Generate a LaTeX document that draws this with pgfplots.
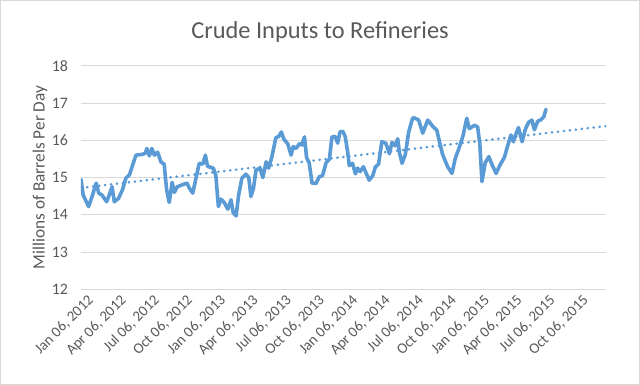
\documentclass[border=0pt]{standalone}
\usepackage{pgfplots}
\pgfplotsset{compat=1.18}
\usepackage{fontspec}
\setmainfont{Carlito}
\definecolor{exblue}{HTML}{5B9BD5}
\definecolor{gridgray}{HTML}{D9D9D9}
\definecolor{textgray}{HTML}{595959}
\begin{document}
\begin{tikzpicture}
\path[use as bounding box] (-81bp,-95.7bp) rectangle (559bp,289.3bp);
\begin{axis}[
  at={(0,0)}, anchor=south west,
  scale only axis, width=525bp, height=223.6bp,
  xmin=0, xmax=1452, ymin=12, ymax=18,
  ytick={12,13,14,15,16,17,18},
  xtick={0,91,182,274,366,456,547,639,731,821,912,1004,1096,1186,1277,1369},
  xticklabels={{Jan 06, 2012},{Apr 06, 2012},{Jul 06, 2012},{Oct 06, 2012},{Jan 06, 2013},{Apr 06, 2013},{Jul 06, 2013},{Oct 06, 2013},{Jan 06, 2014},{Apr 06, 2014},{Jul 06, 2014},{Oct 06, 2014},{Jan 06, 2015},{Apr 06, 2015},{Jul 06, 2015},{Oct 06, 2015}},
  ymajorgrids, grid style={color=gridgray, line width=0.75bp},
  axis line style={draw=none}, tick style={draw=none},
  /pgf/number format/assume math mode=true,
  ticklabel style={font=\fontsize{16}{18}\selectfont, text=textgray},
  yticklabel style={anchor=east, xshift=-9.5bp},
  xticklabel style={font=\fontsize{15}{17}\selectfont, rotate=45, anchor=east, inner sep=0pt, xshift=1bp, yshift=-13.5bp},
  ylabel={Millions of Barrels Per Day},
  ylabel style={at={(axis description cs:-0.078,0.5)}, anchor=center, font=\fontsize{17.3}{20}\selectfont, text=textgray},
]
\addplot[color=exblue, line width=3.6bp, line join=round, line cap=round] table {
day value
0 14.95
6 14.53
21 14.22
32 14.53
42 14.85
49 14.58
58 14.53
71 14.35
78 14.53
86 14.75
92 14.35
104 14.44
115 14.68
124 14.98
134 15.07
143 15.34
152 15.60
169 15.62
178 15.65
182 15.78
189 15.58
196 15.78
203 15.60
212 15.68
221 15.42
230 15.36
237 14.66
244 14.33
252 14.87
258 14.60
266 14.75
279 14.80
293 14.85
300 14.71
309 14.58
318 14.98
327 15.38
337 15.36
344 15.60
350 15.30
366 15.25
373 15.05
380 14.22
387 14.42
396 14.33
406 14.15
415 14.40
421 14.05
429 13.97
436 14.53
445 14.98
456 15.09
464 15.00
470 14.49
477 14.71
484 15.20
495 15.25
503 15.00
512 15.42
519 15.25
528 15.56
539 16.07
547 16.10
554 16.22
561 16.03
572 15.90
581 15.60
587 15.83
595 15.78
604 15.91
611 15.87
618 16.09
624 15.53
631 15.40
639 14.85
650 14.84
659 15.02
668 15.05
678 15.40
687 15.49
694 16.09
703 16.10
710 15.92
716 16.22
724 16.24
731 16.09
738 15.65
742 15.32
751 15.38
759 15.10
765 15.25
772 15.16
781 15.29
788 15.13
797 14.93
807 15.05
814 15.28
823 15.36
832 15.96
843 15.92
853 15.64
860 15.94
869 15.85
876 16.04
881 15.65
888 15.38
897 15.62
906 16.21
917 16.59
922 16.60
934 16.54
945 16.19
959 16.54
973 16.37
984 16.27
991 15.98
1000 15.62
1014 15.29
1026 15.11
1035 15.51
1046 15.80
1056 16.10
1067 16.59
1074 16.31
1088 16.40
1097 16.36
1103 15.90
1109 14.89
1118 15.40
1128 15.56
1137 15.34
1148 15.11
1159 15.34
1171 15.54
1180 15.85
1189 16.14
1196 15.96
1203 16.17
1210 16.34
1220 15.96
1229 16.30
1238 16.48
1247 16.54
1254 16.28
1263 16.51
1272 16.55
1280 16.63
1286 16.83
};
\addplot[color=exblue, line width=2.5bp, dash pattern=on 0.5bp off 5.5bp, line cap=round] coordinates {(0,14.72) (1452,16.38)};
\end{axis}
\node[font=\fontsize{24.5}{28}\selectfont, text=textgray, anchor=base] at (239bp,250.5bp) {Crude Inputs to Refineries};
\draw[color=gridgray, line width=0.75bp] (-80.6bp,-95.3bp) rectangle (558.6bp,288.9bp);
\end{tikzpicture}
\end{document}
